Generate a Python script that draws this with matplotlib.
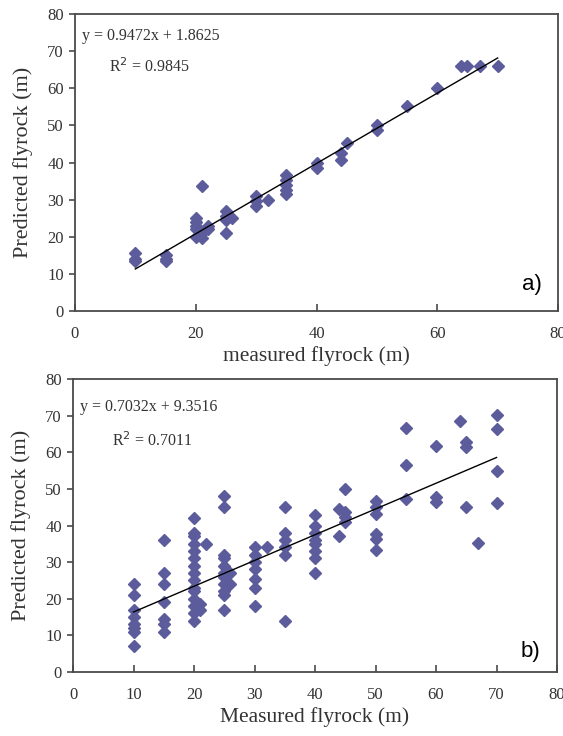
import matplotlib
matplotlib.use('Agg')
import matplotlib.pyplot as plt
import numpy as np

plt.rcParams['font.family'] = ['Liberation Serif', 'DejaVu Serif']

# ---- data: panel a) ----
meas_a = [10, 10, 10, 15, 15, 15,
          20, 20, 20, 20, 20, 21, 21, 21, 22, 22,
          25, 25, 25, 25, 26, 30, 30, 30, 32,
          35, 35, 35, 35, 35, 40, 40, 44, 44, 45,
          50, 50, 55, 60, 64, 65, 67, 70]
pred_a = [15.5, 14, 13.5, 15, 14, 13.5,
          25, 24, 23, 22, 20, 33.6, 21, 19.7, 22, 22.8,
          27, 25.5, 24.6, 21.1, 25.1, 30.9, 29.6, 28.2, 30,
          36.7, 35.4, 34, 32.7, 31.4, 39.9, 38.5, 42.6, 40.8, 45.2,
          50.2, 48.8, 55.1, 60, 66, 66, 66, 66]
slope_a, icpt_a, r2_a = 0.9472, 1.8625, 0.9845

# ---- data: panel b) ----
meas_b = [10, 10, 10, 10, 10, 10, 10, 10,
          15, 15, 15, 15, 15, 15, 15,
          20, 20, 20, 20, 20, 20, 20, 20, 20, 20, 20, 20, 20, 20, 20,
          21, 21, 22,
          25, 25, 25, 25, 25, 25, 25, 25, 25, 25, 25, 26, 26,
          30, 30, 30, 30, 30, 30, 30, 32,
          35, 35, 35, 35, 35, 35,
          40, 40, 40, 40, 40, 40, 40, 40,
          44, 44, 45, 45, 45, 45,
          50, 50, 50, 50, 50, 50,
          55, 55, 55, 60, 60, 60, 64, 65, 65, 65, 67,
          70, 70, 70, 70]
pred_b = [24, 21, 17, 15, 13, 12, 11, 7,
          36, 27, 24, 19, 14.5, 13, 11,
          42, 38, 37, 35, 33, 31, 29, 27, 25, 23, 22, 20, 18, 16, 14,
          16.8, 18.6, 35,
          48, 45, 32, 31, 29, 27, 26, 24, 22, 21, 17, 24, 27,
          34, 32, 30, 28, 25.5, 23, 18, 34,
          45, 38, 36, 34, 32, 14,
          43, 40, 38, 36, 35, 33, 31, 27,
          44.5, 37, 50, 43.6, 42.3, 41,
          46.8, 45, 43.2, 37.7, 36.4, 33.4,
          66.5, 56.6, 47.3, 61.8, 47.7, 46.4, 68.6, 62.7, 61.4, 45, 35.2,
          70.3, 66.4, 54.8, 46.2]
slope_b, icpt_b, r2_b = 0.7032, 9.3516, 0.7011

mcol = '#5c5c9c'
spcol = '#4a4a4a'
tcol = '#333333'

fig = plt.figure(figsize=(5.63, 7.36), dpi=100)
fig.patch.set_facecolor('white')


def style(ax):
    for s in ax.spines.values():
        s.set_color(spcol)
        s.set_linewidth(1.3)
    ax.tick_params(axis='y', direction='out', length=4, width=1.2, color=spcol,
                   labelsize=12, labelcolor=tcol, pad=4)
    ax.tick_params(axis='x', direction='in', length=5, width=1.2, color=spcol,
                   labelsize=12, labelcolor=tcol, pad=11)
    ax.set_ylim(0, 80)
    ax.set_xlim(0, 80)
    ax.set_yticks(range(0, 81, 10))


# ===== a) =====
ax1 = fig.add_axes([0.1332, 0.5774, 0.858, 0.4035])
ax1.plot(meas_a, pred_a, linestyle='none', marker='D', markersize=6,
         color=mcol, markeredgecolor=mcol, clip_on=False, zorder=2)
xl = np.array([min(meas_a), max(meas_a)])
ax1.plot(xl, slope_a * xl + icpt_a, color='black', lw=1.0, zorder=3)
style(ax1)
ax1.set_xticks(range(0, 81, 20))
ax1.set_xlabel('measured flyrock (m)', fontsize=15.5, color=tcol, labelpad=3)
ax1.set_ylabel('Predicted flyrock (m)', fontsize=16, color=tcol, labelpad=10)
ax1.text(0.015, 0.925, f'y = {slope_a}x + {icpt_a}', transform=ax1.transAxes,
         fontsize=11.5, color=tcol, va='center')
ax1.text(0.071, 0.824, f'R$^2$ = {r2_a}', transform=ax1.transAxes,
         fontsize=11.5, color=tcol, va='center')
ax1.text(0.925, 0.09, 'a)', transform=ax1.transAxes, fontsize=16,
         family='Liberation Sans', va='center')

# ===== b) =====
ax2 = fig.add_axes([0.1297, 0.087, 0.8597, 0.398])
ax2.plot(meas_b, pred_b, linestyle='none', marker='D', markersize=6,
         color=mcol, markeredgecolor=mcol, clip_on=False, zorder=2)
xl = np.array([min(meas_b), max(meas_b)])
ax2.plot(xl, slope_b * xl + icpt_b, color='black', lw=1.0, zorder=3)
style(ax2)
ax2.set_xticks(range(0, 81, 10))
ax2.set_xlabel('Measured flyrock (m)', fontsize=15.5, color=tcol, labelpad=3)
ax2.set_ylabel('Predicted flyrock (m)', fontsize=16, color=tcol, labelpad=10)
ax2.text(0.015, 0.905, f'y = {slope_b}x + {icpt_b}', transform=ax2.transAxes,
         fontsize=11.5, color=tcol, va='center')
ax2.text(0.081, 0.79, f'R$^2$ = {r2_b}', transform=ax2.transAxes,
         fontsize=11.5, color=tcol, va='center')
ax2.text(0.925, 0.07, 'b)', transform=ax2.transAxes, fontsize=16,
         family='Liberation Sans', va='center')

plt.savefig('out.png', dpi=100, facecolor='white')
